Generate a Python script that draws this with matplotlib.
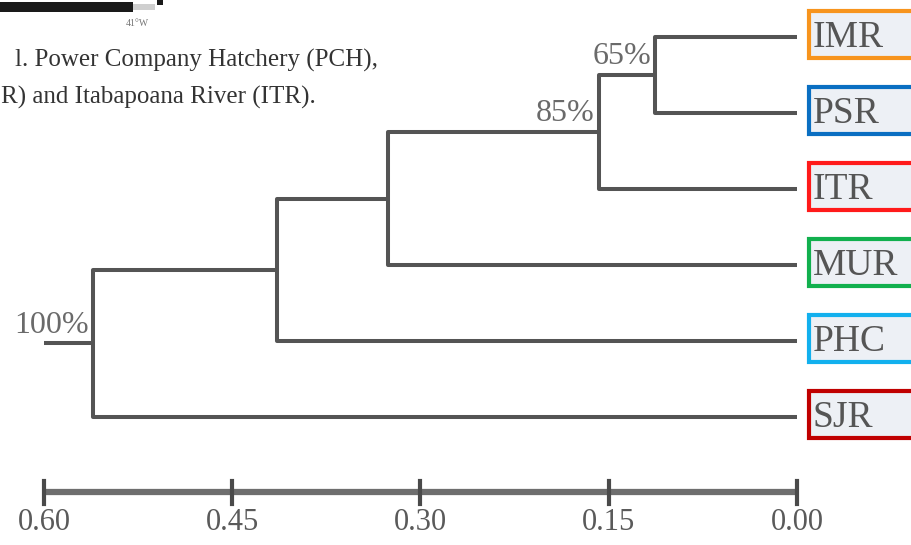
import matplotlib.pyplot as plt
from matplotlib.patches import Rectangle

# Datos del dendrograma
leaves = ['IMR', 'PSR', 'ITR', 'MUR', 'PHC', 'SJR']
leaf_colors = ['#f7941d', '#0a6fc2', '#ff1a1a', '#12b04e', '#12b0ee', '#c00000']
# union (hijo a, hijo b, distancia) al estilo linkage
merge_a = [0, 6, 7, 8, 9]
merge_b = [1, 2, 3, 4, 5]
merge_dist = [0.113, 0.158, 0.326, 0.414, 0.561]
support = ['65%', '85%', '', '', '100%']
root_dist = 0.60
scale_ticks = [0.60, 0.45, 0.30, 0.15, 0.00]
scale_labels = ['0.60', '0.45', '0.30', '0.15', '0.00']

line_col = '#545454'
serif = 'Liberation Serif'

W, H = 912, 545
fig = plt.figure(figsize=(W / 100, H / 100), dpi=100)
ax = fig.add_axes([0, 0, 1, 1])
px_per_unit = 1255
ax.set_xlim(797 / px_per_unit, -(W - 797) / px_per_unit)
ax.set_ylim((H - 37) / 76, -37 / 76)
ax.axis('off')

# posiciones de los nodos
ypos = {i: float(i) for i in range(len(leaves))}
xpos = {i: 0.0 for i in range(len(leaves))}
for k, (a, b, d) in enumerate(zip(merge_a, merge_b, merge_dist)):
    node = len(leaves) + k
    ax.plot([xpos[a], d, d, xpos[b]], [ypos[a], ypos[a], ypos[b], ypos[b]],
            color=line_col, lw=2.9, solid_joinstyle='round', solid_capstyle='butt', zorder=2)
    ypos[node] = (ypos[a] + ypos[b]) / 2
    xpos[node] = d
    if support[k]:
        ax.text(d + 0.003, ypos[node] - 0.05, support[k], ha='right', va='bottom',
                fontsize=23, family=serif, color='#6a6a6a', zorder=3)

root = len(leaves) + len(merge_dist) - 1
ax.plot([root_dist, xpos[root]], [ypos[root], ypos[root]], color=line_col, lw=2.9,
        solid_capstyle='butt', zorder=2)

# etiquetas de las hojas con recuadro de color
for i, (name, col) in enumerate(zip(leaves, leaf_colors)):
    ax.add_patch(Rectangle((-0.0095, i - 0.34), -0.2, 0.62, facecolor='#edf0f5',
                           edgecolor=col, lw=3, zorder=3, clip_on=True))
    ax.text(-0.0125, i + 0.01, name, ha='left', va='center', fontsize=27,
            family=serif, color='#555555', zorder=4)

# barra de escala
ybar = 5.99
ax.plot([scale_ticks[0], scale_ticks[-1]], [ybar, ybar], color='#6e6e6e', lw=4.5,
        solid_capstyle='butt', zorder=2)
for t, lab in zip(scale_ticks, scale_labels):
    ax.plot([t, t], [ybar - 0.15, ybar + 0.15], color='#4a4a4a', lw=3, zorder=3)
    ax.text(t, ybar + 0.4, lab, ha='center', va='center', fontsize=22,
            family=serif, color='#5a5a5a')

# fragmentos del mapa y la leyenda de la figura original
fig.add_artist(Rectangle((0, 1 - 12 / H), 133 / W, 10 / H, transform=fig.transFigure,
                         facecolor='#1a1a1a', edgecolor='none'))
fig.add_artist(Rectangle((133 / W, 1 - 10 / H), 22 / W, 6 / H, transform=fig.transFigure,
                         facecolor='#cfcfcf', edgecolor='none'))
fig.add_artist(Rectangle((157 / W, 1 - 5 / H), 6 / W, 5 / H, transform=fig.transFigure,
                         facecolor='#1a1a1a', edgecolor='none'))
fig.text(137 / W, 1 - 24 / H, '41°W', ha='center', va='center', fontsize=7,
         family=serif, color='#777777')
fig.text(15 / W, 1 - 60 / H, 'l. Power Company Hatchery (PCH),', ha='left', va='center',
         fontsize=18, family=serif, color='#333333')
fig.text(1 / W, 1 - 97 / H, 'R) and Itabapoana River (ITR).', ha='left', va='center',
         fontsize=18, family=serif, color='#333333')

plt.savefig('out.png', dpi=100, facecolor='white')
